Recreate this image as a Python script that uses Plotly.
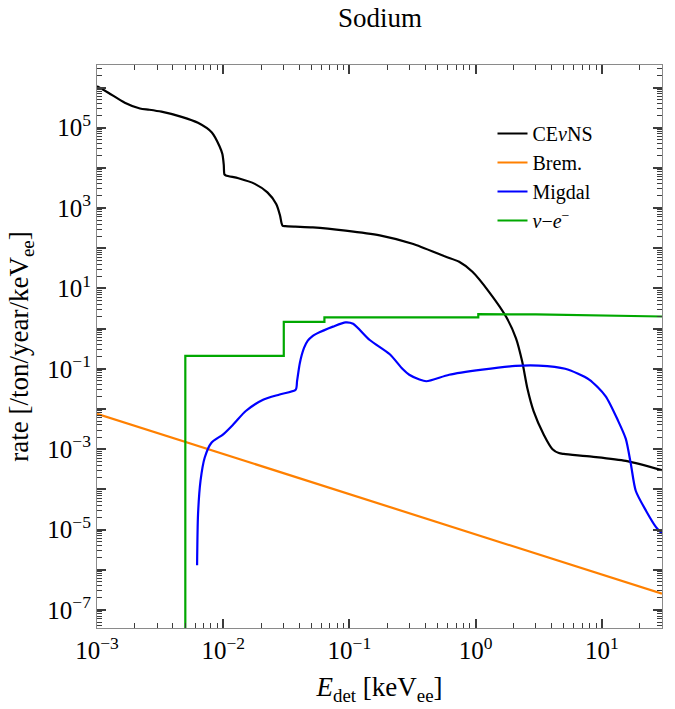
import plotly.graph_objects as go

# ---- data ----
cevns_E = [0.001, 1.23e-3, 1.66e-3, 2.19e-3, 2.6e-3, 3.24e-3, 4.68e-3, 6.31e-3, 8.13e-3, 9.33e-3,
           0.00985, 0.0101, 0.01023, 0.0105, 0.0132, 0.0178, 0.0224, 0.0263, 0.0282, 0.0290,
           0.0296, 0.0310, 0.0372, 0.0513,
           0.0933, 0.174, 0.316, 0.575, 0.741, 0.944, 1.29, 1.74, 2.09, 2.34, 2.57, 2.88,
           3.47, 4.07, 4.57, 5.0, 8.32, 15.5, 30.0]
cevns_R = [1.07e6, 7.4e5, 4.2e5, 3.0e5, 2.8e5, 2.5e5, 1.86e5, 1.32e5, 7.6e4, 3.5e4,
           2.2e4, 1.2e4, 6.9e3, 6.5e3, 5.5e3, 4.0e3, 2.45e3, 1.26e3, 650, 420,
           360, 355, 345, 331,
           275, 209, 129, 62, 46, 26, 7.9, 2.0, 0.575, 0.151, 0.033, 8.9e-3,
           2.3e-3, 1.0e-3, 8.0e-4, 7.6e-4, 6.5e-4, 5.1e-4, 3.0e-4]

brem_E = [0.001, 0.01, 0.1, 1.0, 10.0, 30.0]
brem_R = [7.6e-3, 7.6e-4, 7.6e-5, 7.6e-6, 7.6e-7, 2.53e-7]

migdal_E = [6.21e-3, 6.32e-3, 6.61e-3, 7.14e-3, 8.07e-3, 0.0100, 0.0120, 0.0151, 0.0207,
            0.0280, 0.0375, 0.0385, 0.0405, 0.0437, 0.0468, 0.0513, 0.0550, 0.0741,
            0.0933, 0.107, 0.145, 0.209, 0.263, 0.298, 0.355, 0.407, 0.617, 1.13, 2.07,
            3.16, 5.13, 7.94, 10.7, 13.5, 15.5, 17.0, 18.6, 22.4, 26.9, 30.0]
migdal_R = [1.29e-6, 2.45e-5, 1.62e-4, 6.2e-4, 1.45e-3, 2.34e-3, 4.1e-3, 8.9e-3, 1.7e-2,
            2.3e-2, 3.0e-2, 5.0e-2, 0.14, 0.33, 0.50, 0.66, 0.75, 1.12,
            1.43, 1.32, 0.52, 0.23, 0.10, 0.071, 0.055, 0.049, 0.071, 0.095, 0.118,
            0.12, 0.10, 0.054, 0.021, 5.0e-3, 1.8e-3, 4.2e-4, 9.1e-5, 2.95e-5, 1.15e-5, 7.9e-6]

nue_E = [0.00501, 0.00501, 0.0302, 0.0302, 0.0634, 0.0634, 1.05, 1.05, 3.0, 10.0, 30.0]
nue_R = [1e-9, 0.21, 0.21, 1.48, 1.48, 1.9, 1.9, 2.3, 2.25, 2.15, 2.0]

series = [
    ("CE<i>ν</i>NS", cevns_E, cevns_R, "#000000", "spline"),
    ("Brem.", brem_E, brem_R, "#FF8000", "linear"),
    ("Migdal", migdal_E, migdal_R, "#0000FF", "spline"),
    ("<i>ν</i>−<i>e</i><sup>−</sup>", nue_E, nue_R, "#00A800", "linear"),
]

x_tickvals = [1e-3, 1e-2, 1e-1, 1e0, 1e1]
x_ticktext = ["10<sup>−3</sup>", "10<sup>−2</sup>", "10<sup>−1</sup>", "10<sup>0</sup>", "10<sup>1</sup>"]
y_exps = list(range(-7, 7))
y_tickvals = [10.0 ** e for e in y_exps]
y_ticktext = [("10<sup>%s</sup>" % (str(e).replace("-", "−"))) if e % 2 != 0 else " " for e in y_exps]

# minor ticks, kept inside the visible ranges
x_minor = [m * 10.0 ** e for e in range(-3, 2) for m in range(2, 10) if m * 10.0 ** e <= 30]
y_minor = [m * 10.0 ** e for e in range(-8, 7) for m in range(2, 10)
           if 3.6e-8 <= m * 10.0 ** e <= 3.6e6]

FONT = "Liberation Serif"
LINE = "#8a8a8a"
TICK = "#3c3c3c"
fig = go.Figure()
for name, xs, ys, col, shape in series:
    line = dict(color=col, width=2.2, shape=shape)
    if shape == "spline":
        line["smoothing"] = 0.7
    fig.add_trace(go.Scatter(x=xs, y=ys, mode="lines", name=name, line=line))

fig.update_xaxes(type="log", range=[-3, 1.477], tickmode="array", tickvals=x_tickvals, ticktext=x_ticktext,
                 showgrid=False, zeroline=False, showline=True, linecolor=LINE, linewidth=1.2,
                 mirror="allticks", ticks="inside", ticklen=9, tickcolor=TICK, tickwidth=1.5,
                 tickfont=dict(family=FONT, size=25, color="black"),
                 minor=dict(ticks="inside", ticklen=5, tickcolor=TICK, tickwidth=1.3,
                            tickmode="array", tickvals=x_minor, showgrid=False),
                 title=dict(text="<i>E</i><sub>det</sub> [keV<sub>ee</sub>]",
                            font=dict(family=FONT, size=27, color="black"), standoff=14))
fig.update_yaxes(type="log", range=[-7.45, 6.56], tickmode="array", tickvals=y_tickvals, ticktext=y_ticktext,
                 showgrid=False, zeroline=False, showline=True, linecolor=LINE, linewidth=1.2,
                 mirror="allticks", ticks="inside", ticklen=9, tickcolor=TICK, tickwidth=1.5,
                 tickfont=dict(family=FONT, size=25, color="black"),
                 minor=dict(ticks="inside", ticklen=5, tickcolor=TICK, tickwidth=1.3,
                            tickmode="array", tickvals=y_minor, showgrid=False),
                 title=dict(text="rate [/ton/year/keV<sub>ee</sub>]",
                            font=dict(family=FONT, size=27, color="black"), standoff=10))

fig.update_layout(
    width=675, height=709,
    margin=dict(l=97, r=12, t=65, b=79),
    paper_bgcolor="white", plot_bgcolor="white",
    title=dict(text="Sodium", x=0.563, xanchor="center", y=0.988, yanchor="top",
               font=dict(family=FONT, size=27, color="black")),
    legend=dict(x=0.70, y=0.913, xanchor="left", yanchor="top",
                bgcolor="rgba(0,0,0,0)", borderwidth=0, tracegroupgap=0,
                font=dict(family=FONT, size=20, color="black")),
    showlegend=True,
)

fig.write_html("out.html")
